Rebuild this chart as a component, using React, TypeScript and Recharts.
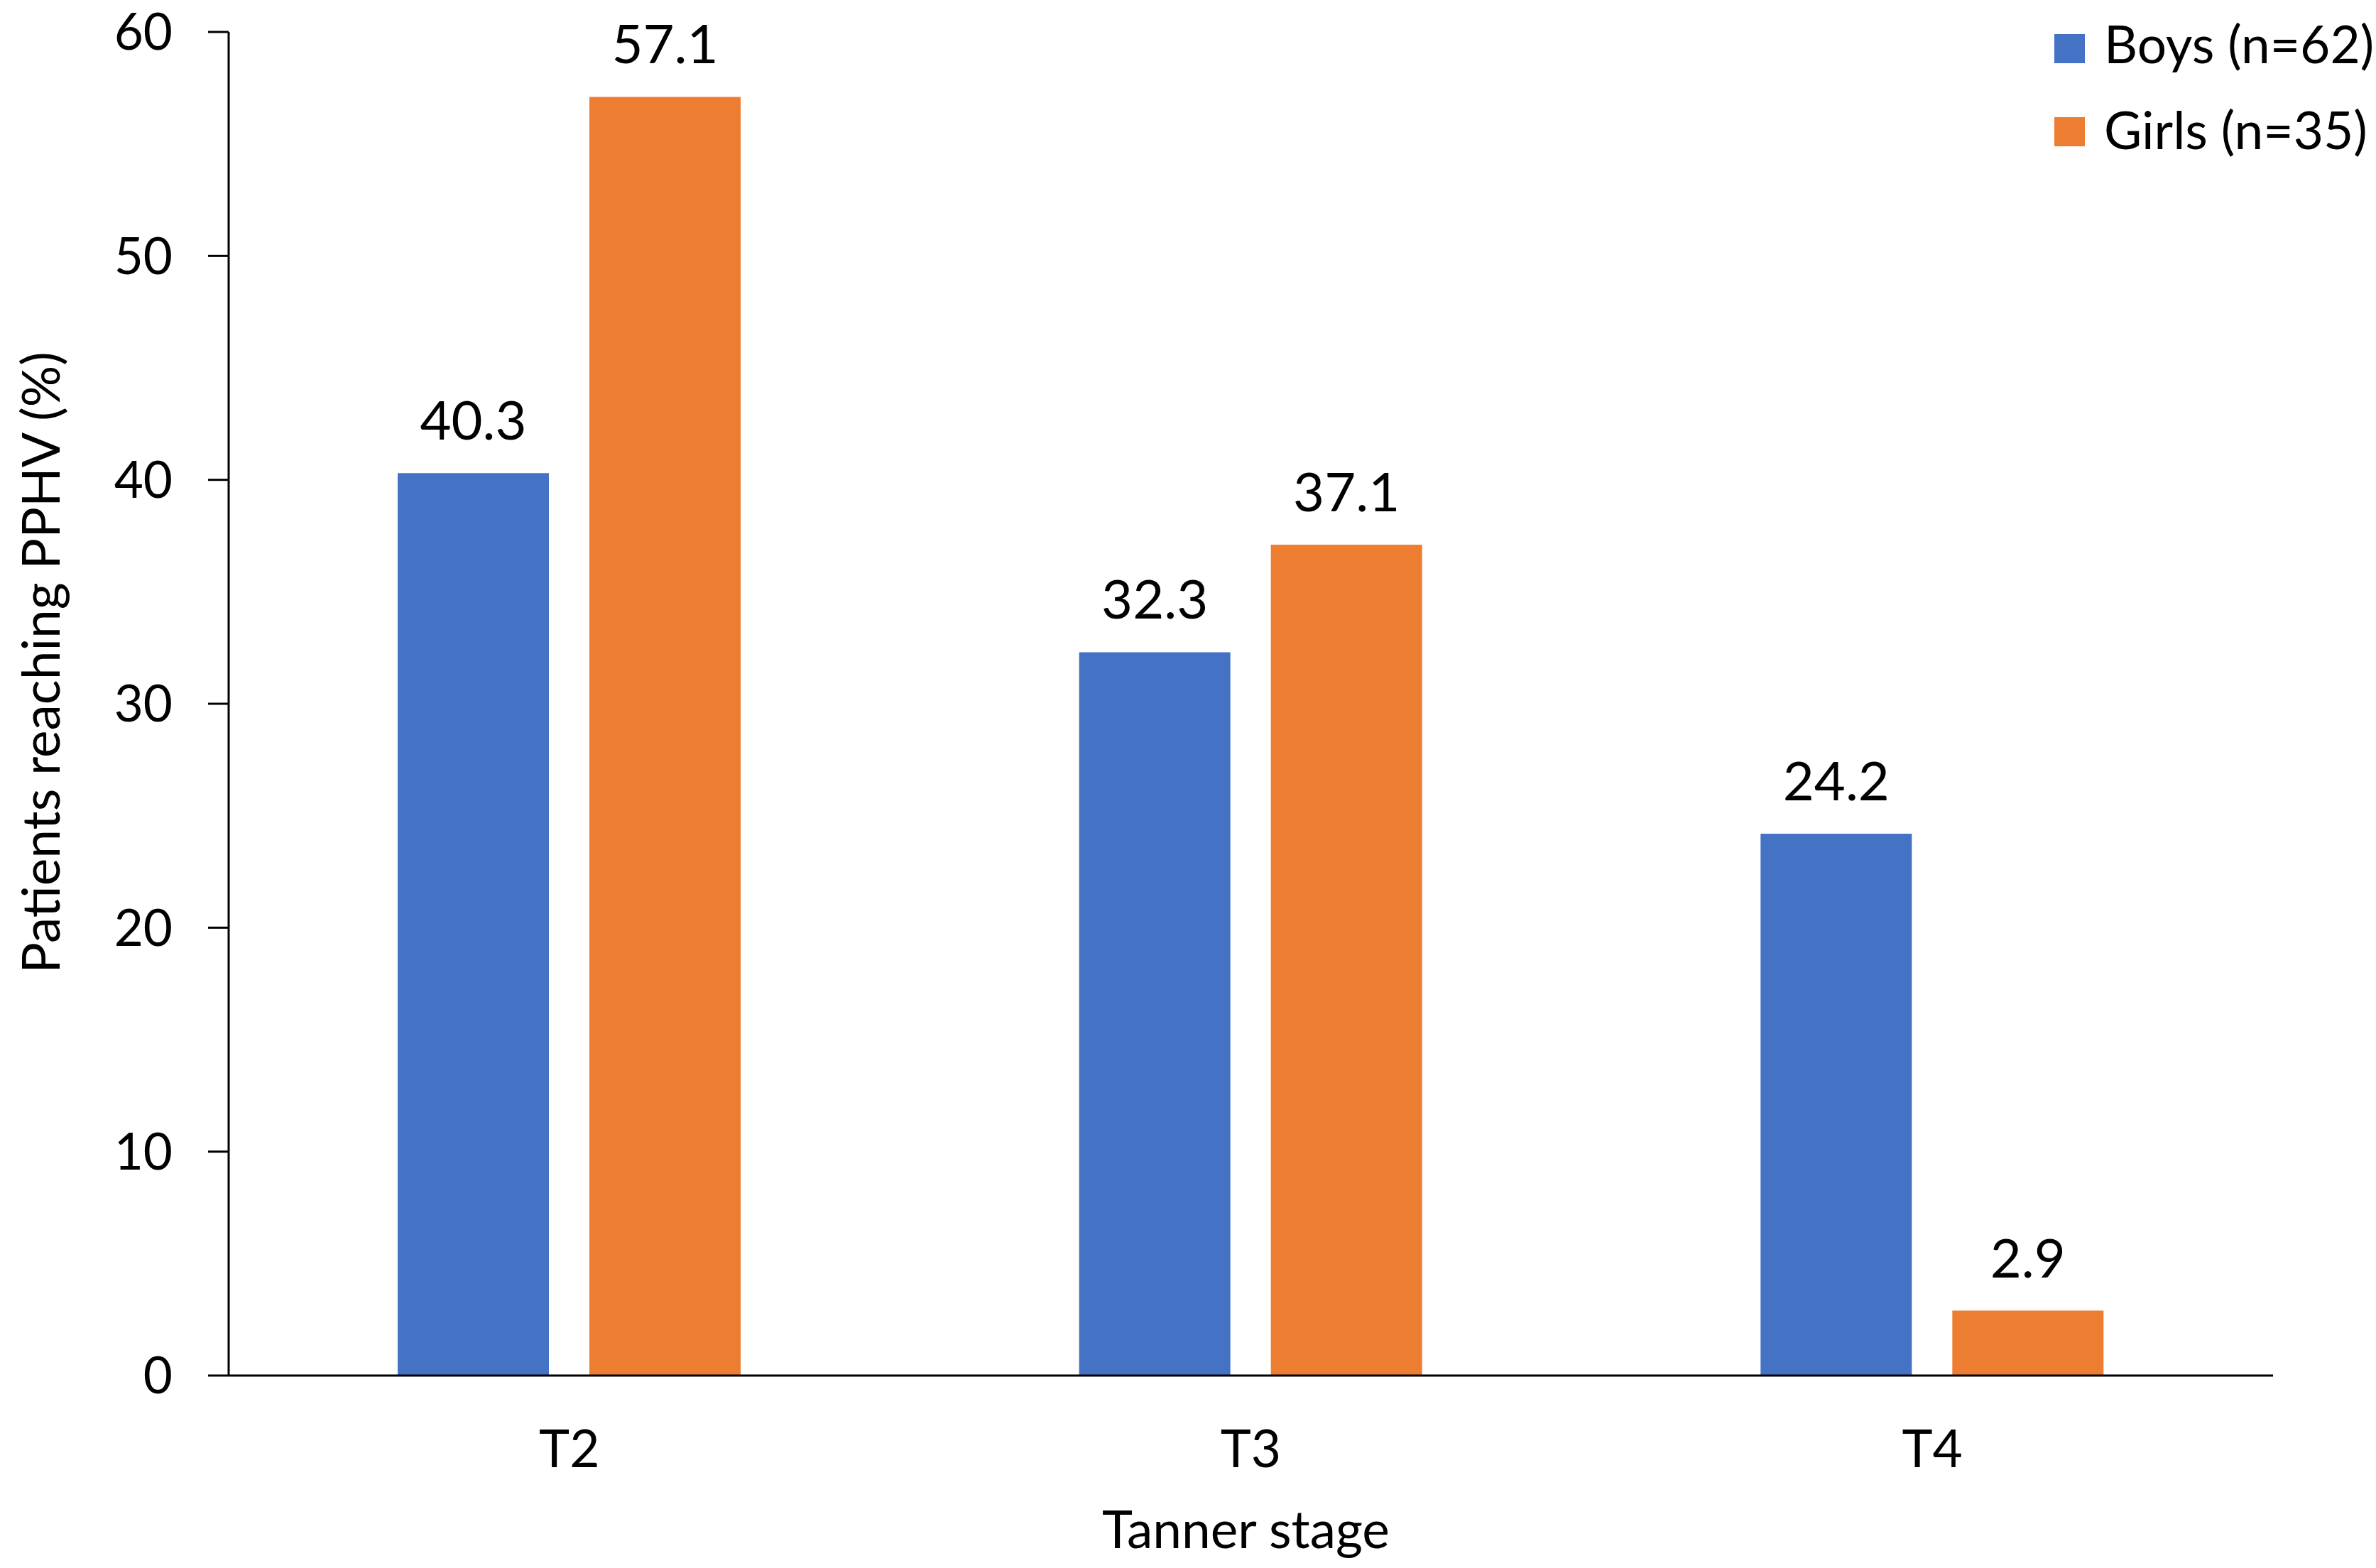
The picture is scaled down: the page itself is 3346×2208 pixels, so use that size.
import React from 'react';
import { BarChart, Bar, XAxis, YAxis, Legend, LabelList, Label } from 'recharts';

const categories = ['T2', 'T3', 'T4'];
const boysValues = [40.3, 32.3, 24.2];
const girlsValues = [57.1, 37.1, 2.9];
const seriesNames = ['Boys (n=62)', 'Girls (n=35)'];
const seriesColors = ['#4472C4', '#ED7D31'];
const yTicks = [0, 10, 20, 30, 40, 50, 60];
const xTitle = 'Tanner stage';
const yTitle = 'Patients reaching PPHV (%)';

const data = categories.map((c, i) => ({ stage: c, boys: boysValues[i], girls: girlsValues[i] }));

const FONT = 'Lato, Carlito, Calibri, sans-serif';
const FS = 73;
const NFS = 76;
const TFS = 71;

const LegendContent = (props: any) => {
  const payload = props.payload || [];
  return (
    <svg width={466} height={240} style={{ display: 'block' }}>
      {payload.map((p: any, i: number) => (
        <g key={i}>
          <rect x={13} y={48 + i * 117} width={43} height={41} fill={p.color} />
          <text x={83} y={89 + i * 121} fontFamily={FONT} fontSize={FS} fill="#000">
            {p.value}
          </text>
        </g>
      ))}
    </svg>
  );
};

const YTitle = (props: any) => {
  const vb = props.viewBox;
  const cx = 84;
  const cy = vb.y + vb.height / 2 - 58;
  return (
    <text
      x={cx}
      y={cy}
      transform={`rotate(-90, ${cx}, ${cy})`}
      textAnchor="middle"
      fontFamily={FONT}
      fontSize={FS}
      fill="#000"
    >
      {yTitle}
    </text>
  );
};

const XTitle = (props: any) => {
  const vb = props.viewBox;
  const cx = vb.x + vb.width / 2 - 7;
  const cy = vb.y + 243;
  return (
    <text x={cx} y={cy} textAnchor="middle" fontFamily={FONT} fontSize={FS} fill="#000">
      {xTitle}
    </text>
  );
};

export default function App() {
  return (
    <div style={{ position: 'absolute', left: 0, top: 0, width: 3346, height: 2208, background: '#fff' }}>
      <BarChart
        width={3346}
        height={2208}
        data={data}
        margin={{ top: 45, right: 145, bottom: 0, left: 0 }}
        barCategoryGap="24.8%"
        barGap={57}
      >
        <XAxis
          dataKey="stage"
          height={271}
          axisLine={{ stroke: '#000', strokeWidth: 3 }}
          tickLine={false}
          tickSize={0}
          tickMargin={77}
          tick={{ fontFamily: FONT, fontSize: FS, fill: '#000' }}
        >
          <Label content={<XTitle />} />
        </XAxis>
        <YAxis
          width={322}
          domain={[0, 60]}
          ticks={yTicks}
          interval={0}
          axisLine={{ stroke: '#000', strokeWidth: 3 }}
          tickLine={{ stroke: '#000', strokeWidth: 3 }}
          tickSize={29}
          tickMargin={50}
          tick={{ fontFamily: FONT, fontSize: TFS, fill: '#000' }}
        >
          <Label content={<YTitle />} />
        </YAxis>
        <Legend
          layout="horizontal"
          verticalAlign="middle"
          align="center"
          content={<LegendContent />}
          wrapperStyle={{ position: 'absolute', left: 2880, top: 0, width: 466, height: 240 }}
        />
        <Bar dataKey="boys" name={seriesNames[0]} fill={seriesColors[0]} isAnimationActive={false}>
          <LabelList dataKey="boys" position="top" offset={47} fontFamily={FONT} fontSize={NFS} fill="#000" />
        </Bar>
        <Bar dataKey="girls" name={seriesNames[1]} fill={seriesColors[1]} isAnimationActive={false}>
          <LabelList dataKey="girls" position="top" offset={47} fontFamily={FONT} fontSize={NFS} fill="#000" />
        </Bar>
      </BarChart>
    </div>
  );
}
